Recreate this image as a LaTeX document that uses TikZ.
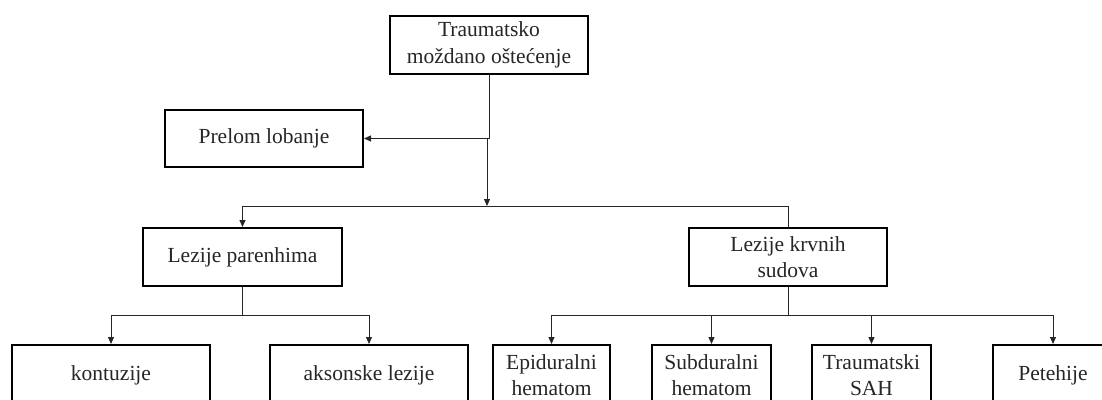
\documentclass[tikz,border=0pt]{standalone}
\usepackage{fontspec}
\setmainfont{Liberation Serif}
\usetikzlibrary{arrows.meta}
\begin{document}
\begin{tikzpicture}[x=1pt,y=-1pt,
  box/.style={draw=black, line width=2pt, fill=white, align=center, inner sep=0pt,
    font=\fontsize{21.5}{26.5}\selectfont, text=black!85},
  wide/.style={box, minimum width=198pt, minimum height=58pt},
  narrow/.style={box, minimum width=118pt, minimum height=60pt},
  conn/.style={draw=black!85, line width=1pt},
  arr/.style={conn, -{Triangle[length=7pt,width=6pt]}}]
\useasboundingbox (0,0) rectangle (1102,399);
\clip (0,0) rectangle (1102,399);
\node[wide] (top) at (489,45) {Traumatsko\\mo\v{z}dano o\v{s}te\'{c}enje};
\node[wide, minimum height=57pt] (prelom) at (264,138.5) {Prelom lobanje};
\node[wide, minimum width=199pt] (par) at (242.5,257) {Lezije parenhima};
\node[wide] (krv) at (788,257) {Lezije krvnih\\sudova};
\node[wide, minimum height=60pt] (kon) at (111,375) {kontuzije};
\node[wide, minimum height=60pt] (aks) at (369,375) {aksonske lezije};
\node[narrow, minimum width=117pt] (epi) at (551.5,375) {Epiduralni\\hematom};
\node[narrow, minimum width=119pt] (sub) at (711.5,375) {Subduralni\\hematom};
\node[narrow, minimum width=119pt] (tra) at (871.5,375) {Traumatski\\SAH};
\node[narrow, minimum width=120pt] (pet) at (1053,375) {Petehije};
\coordinate (j0) at (487,139);
\coordinate (j1) at (487,206);
\coordinate (j2) at (242.5,315);
\coordinate (j3) at (788,315);
\draw[arr] (top.south) |- (prelom.east);
\draw[arr] (j0) -- (j1);
\draw[arr] (j1) -| (par.north);
\draw[conn] (j1) -| (krv.north);
\draw[conn] (par.south) -- (j2);
\draw[arr] (j2) -| (kon.north);
\draw[arr] (j2) -| (aks.north);
\draw[conn] (krv.south) -- (j3);
\draw[arr] (j3) -| (epi.north);
\draw[arr] (j3) -| (sub.north);
\draw[arr] (j3) -| (tra.north);
\draw[arr] (j3) -| (pet.north);
\end{tikzpicture}
\end{document}
